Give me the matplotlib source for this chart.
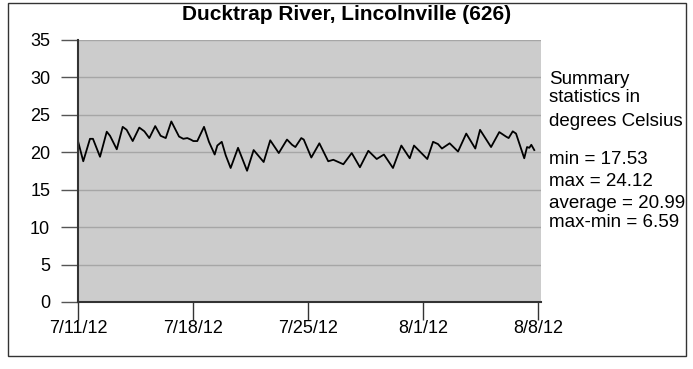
import numpy as np
import matplotlib
matplotlib.use('Agg')
import matplotlib.pyplot as plt
from matplotlib.patches import Rectangle

plt.rcParams['font.family'] = ['Liberation Sans', 'DejaVu Sans']

# days since 7/11/12 00:00, temperature in deg C
days = [0.00, 0.32, 0.73, 0.91, 1.34, 1.75, 1.95, 2.36, 2.72, 2.96,
        3.33, 3.73, 4.04, 4.34, 4.70, 5.03, 5.34, 5.68, 6.15, 6.41,
        6.65, 6.86, 7.02, 7.26, 7.67, 7.97, 8.32, 8.48, 8.75, 8.99,
        9.29, 9.74, 10.29, 10.69, 11.30, 11.70, 12.22, 12.72, 13.03, 13.23,
        13.59, 13.74, 14.20, 14.69, 15.23, 15.54, 16.15, 16.66, 17.16, 17.67,
        18.18, 18.62, 19.17, 19.68, 20.19, 20.45, 21.26, 21.61, 21.91, 22.15,
        22.62, 23.13, 23.63, 24.18, 24.47, 25.14, 25.64, 26.05, 26.21, 26.46,
        26.66, 27.16, 27.33, 27.47, 27.59, 27.77]
temps = [21.5, 18.8, 21.8, 21.8, 19.4, 22.75, 22.2, 20.4, 23.4, 23.0,
         21.5, 23.3, 22.8, 21.9, 23.5, 22.2, 21.9, 24.12, 22.1, 21.8,
         21.9, 21.7, 21.5, 21.5, 23.4, 21.4, 19.7, 20.9, 21.4, 19.6,
         17.9, 20.6, 17.53, 20.3, 18.7, 21.6, 19.9, 21.7, 21.0, 20.7,
         21.9, 21.7, 19.3, 21.2, 18.8, 19.0, 18.4, 19.9, 18.0, 20.2,
         19.1, 19.7, 17.9, 20.9, 19.2, 20.9, 19.1, 21.4, 21.1, 20.5,
         21.2, 20.1, 22.5, 20.5, 23.0, 20.7, 22.7, 22.1, 21.9, 22.8,
         22.5, 19.2, 20.7, 20.6, 21.0, 20.3]

tick_days = [0, 7, 14, 21, 28]
tick_labels = ['7/11/12', '7/18/12', '7/25/12', '8/1/12', '8/8/12']
y_ticks = [0, 5, 10, 15, 20, 25, 30, 35]

stats_head = ['Summary', 'statistics in', 'degrees Celsius']
stats_lines = ['min = 17.53', 'max = 24.12', 'average = 20.99', 'max-min = 6.59']

W, H = 693, 369
fig = plt.figure(figsize=(W / 100, H / 100), dpi=100)
ax = fig.add_axes([78 / W, 1 - 302 / H, (541 - 78) / W, (302 - 40) / H])
ax.set_facecolor('#cccccc')

ax.plot(days, temps, color='black', lw=1.3)

ax.set_xlim(0, 28.18)
ax.set_ylim(0, 35)
ax.set_yticks(y_ticks)
ax.set_xticks(tick_days)
ax.set_xticklabels(tick_labels)
ax.yaxis.grid(True, color='#a6a6a6', lw=1)
ax.set_axisbelow(True)

for s in ['top', 'right']:
    ax.spines[s].set_visible(False)
for s in ['left', 'bottom']:
    ax.spines[s].set_color('#333333')
    ax.spines[s].set_linewidth(1.5)

ax.tick_params(axis='y', length=12, width=1, color='#555555', pad=8, labelsize=13)
ax.tick_params(axis='x', length=13, width=1, color='#333333', pad=0, labelsize=13)

fig.text(0.5, 1 - 14 / H, 'Ducktrap River, Lincolnville (626)', ha='center', va='center',
         fontsize=15, fontweight='bold')

x0 = 549 / W
y_head = [80, 97, 121]
for t, yy in zip(stats_head, y_head):
    fig.text(x0, 1 - yy / H, t, ha='left', va='center', fontsize=13.5)
y_stat = [159, 181, 204, 222]
for t, yy in zip(stats_lines, y_stat):
    fig.text(x0, 1 - yy / H, t, ha='left', va='center', fontsize=13.5)

fig.patches.append(Rectangle((8 / W, 1 - 356 / H), (686 - 8) / W, (356 - 3) / H,
                             transform=fig.transFigure, fill=False,
                             edgecolor='#333333', lw=1))

fig.savefig('out.png', dpi=100)
